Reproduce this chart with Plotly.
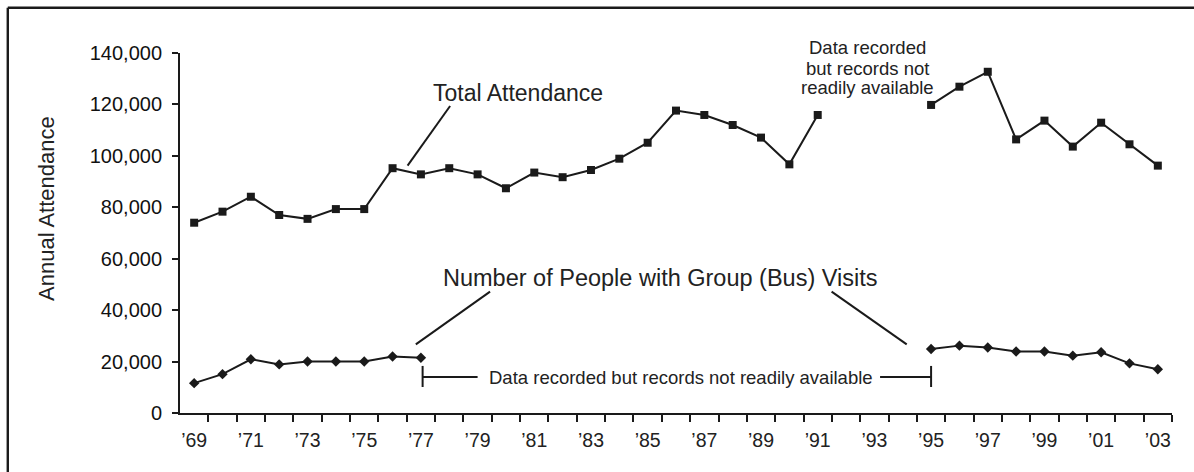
import plotly.graph_objects as go

# ---------------- data ----------------
years = list(range(1969, 2004))

total_attendance = [
    74000, 78300, 84100, 77000, 75500, 79300, 79300, 95200, 92800, 95200,
    92800, 87400, 93500, 91700, 94500, 98900, 105100, 117600, 115900, 112000,
    107100, 96700, 115900, None, None, None, 119800, 126900, 132700, 106400,
    113700, 103600, 112900, 104500, 96200,
]

group_visits = [
    11600, 15100, 20900, 18900, 20000, 20000, 20000, 22000, 21500,
    None, None, None, None, None, None, None, None, None, None, None, None,
    None, None, None, None, None,
    24900, 26200, 25500, 23900, 23900, 22300, 23600, 19300, 17000,
]

label_years = list(range(1969, 2004, 2))
label_text = ["\u2019" + str(y)[2:] for y in label_years]
y_ticks = [0, 20000, 40000, 60000, 80000, 100000, 120000, 140000]
y_text = ["0", "20,000", "40,000", "60,000", "80,000", "100,000", "120,000", "140,000"]

# ---------------- figure ----------------
INK = "#1a1a1a"
FONT = "Liberation Sans, Arial, sans-serif"

fig = go.Figure()
fig.add_trace(go.Scatter(
    x=years, y=total_attendance, mode="lines+markers",
    line=dict(color=INK, width=2), connectgaps=False,
    marker=dict(symbol="square", size=8, color=INK),
    showlegend=False, hoverinfo="skip",
))
fig.add_trace(go.Scatter(
    x=years, y=group_visits, mode="lines+markers",
    line=dict(color=INK, width=2), connectgaps=False,
    marker=dict(symbol="diamond", size=8, color=INK),
    showlegend=False, hoverinfo="skip",
))

line_style = dict(color=INK, width=2)
shapes = [
    # chart frame (only top and left edges visible)
    dict(type="line", xref="paper", yref="paper", x0=-0.1736, x1=1.05, y0=1.1256, y1=1.1256,
         line=dict(color=INK, width=2.4)),
    dict(type="line", xref="paper", yref="paper", x0=-0.1736, x1=-0.1736, y0=-0.2, y1=1.1256,
         line=dict(color=INK, width=2.4)),
    # leader lines
    dict(type="line", xref="x", yref="y", x0=1978.03, y0=119400, x1=1976.53, y1=96200, line=line_style),
    dict(type="line", xref="x", yref="y", x0=1979.44, y0=47200, x1=1976.82, y1=26700, line=line_style),
    dict(type="line", xref="x", yref="y", x0=1991.49, y0=47200, x1=1994.14, y1=26700, line=line_style),
    # bracket for the gap in group data
    dict(type="line", xref="x", yref="y", x0=1977.06, y0=18300, x1=1977.06, y1=10100, line=line_style),
    dict(type="line", xref="x", yref="y", x0=1977.06, y0=14000, x1=1979.0, y1=14000, line=line_style),
    dict(type="line", xref="x", yref="y", x0=1993.2, y0=14000, x1=1995.0, y1=14000, line=line_style),
    dict(type="line", xref="x", yref="y", x0=1995.0, y0=18300, x1=1995.0, y1=10100, line=line_style),
]

txt = dict(family=FONT, color="#222222")
ann = dict(showarrow=False, xanchor="center", yanchor="middle")
annotations = [
    dict(x=1980.43, y=124450, xref="x", yref="y", text="Total Attendance",
         font=dict(size=23, **txt), **ann),
    dict(x=1985.44, y=52500, xref="x", yref="y", text="Number of People with Group (Bus) Visits",
         font=dict(size=23.5, **txt), **ann),
    dict(x=1986.18, y=13730, xref="x", yref="y", text="Data recorded but records not readily available",
         font=dict(size=18.5, **txt), **ann),
    dict(x=1992.77, y=1.0139, xref="x", yref="paper", text="Data recorded",
         font=dict(size=18.5, **txt), **ann),
    dict(x=1992.77, y=0.9583, xref="x", yref="paper", text="but records not",
         font=dict(size=18.5, **txt), **ann),
    dict(x=1992.77, y=0.9028, xref="x", yref="paper", text="readily available",
         font=dict(size=18.5, **txt), **ann),
    # y-axis title
    dict(x=-0.134, y=0.567, xref="paper", yref="paper", text="Annual Attendance",
         textangle=-90, font=dict(size=22, **txt), **ann),
]

fig.update_layout(
    width=1194, height=472,
    margin=dict(l=180, r=22, t=53, b=59),
    paper_bgcolor="white", plot_bgcolor="white",
    font=dict(family=FONT, color="#111111"),
    shapes=shapes, annotations=annotations,
    xaxis=dict(
        range=[1968.5, 2003.5], showgrid=False, zeroline=False,
        showline=True, linecolor=INK, linewidth=2,
        tickmode="array", tickvals=label_years, ticktext=label_text,
        ticks="", ticklabelstandoff=9, tickfont=dict(size=19.5, family=FONT, color="#222222"),
        minor=dict(tickmode="array", tickvals=[y + 0.5 for y in range(1969, 2004)],
                   ticks="outside", ticklen=7, tickwidth=2, tickcolor=INK, showgrid=False),
    ),
    yaxis=dict(
        range=[0, 140000], showgrid=False, zeroline=False,
        showline=True, linecolor=INK, linewidth=2,
        tickmode="array", tickvals=y_ticks, ticktext=y_text,
        ticks="outside", ticklen=6, tickwidth=2, tickcolor=INK,
        ticklabelstandoff=6, tickfont=dict(size=20, family=FONT, color="#111111"),
    ),
)

fig.write_html(
    "out.html",
    config={"displayModeBar": False, "staticPlot": True},
    post_script="document.body.style.margin='0';document.body.style.overflow='hidden';",
)
